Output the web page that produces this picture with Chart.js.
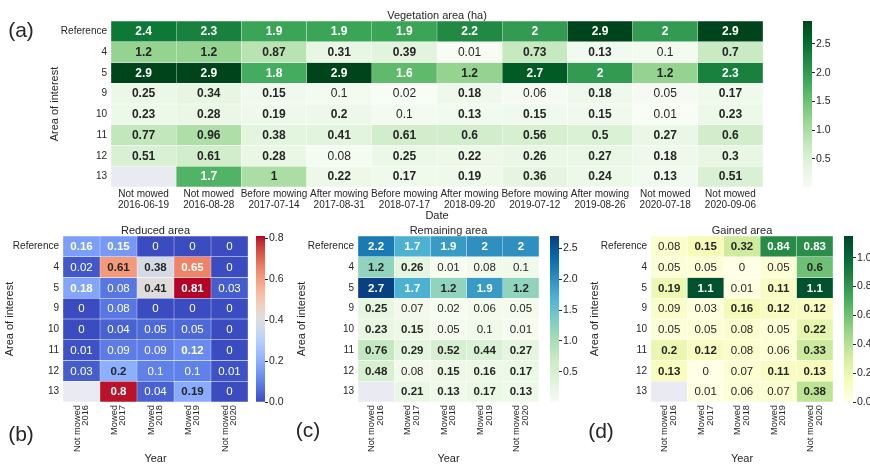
<!DOCTYPE html>
<html>
<head>
<meta charset="utf-8">
<script src="https://cdn.jsdelivr.net/npm/chart.js@4.4.1/dist/chart.umd.min.js"></script>
<style>
  html, body { margin: 0; padding: 0; background: #ffffff; }
  #fig { position: relative; width: 870px; height: 466px; overflow: hidden; background: #ffffff; }
  #fig canvas { position: absolute; }
</style>
</head>
<body>
<div id="fig"></div>
<script>
// ---- data -------------------------------------------------------------
const areaRows = ['Reference', '4', '5', '9', '10', '11', '12', '13'];

const dateLabels = [
  ['Not mowed', '2016-06-19'], ['Not mowed', '2016-08-28'],
  ['Before mowing', '2017-07-14'], ['After mowing', '2017-08-31'],
  ['Before mowing', '2018-07-17'], ['After mowing', '2018-09-20'],
  ['Before mowing', '2019-07-12'], ['After mowing', '2019-08-26'],
  ['Not mowed', '2020-07-18'], ['Not mowed', '2020-09-06']
];

const yearLabels = [
  ['Not mowed', '2016'], ['Mowed', '2017'], ['Mowed', '2018'],
  ['Mowed', '2019'], ['Not mowed', '2020']
];

// vegetation area (ha), one row per area of interest, one column per date
const vegetationArea = [
  [2.4, 2.3, 1.9, 1.9, 1.9, 2.2, 2, 2.9, 2, 2.9],
  [1.2, 1.2, 0.87, 0.31, 0.39, 0.01, 0.73, 0.13, 0.1, 0.7],
  [2.9, 2.9, 1.8, 2.9, 1.6, 1.2, 2.7, 2, 1.2, 2.3],
  [0.25, 0.34, 0.15, 0.1, 0.02, 0.18, 0.06, 0.18, 0.05, 0.17],
  [0.23, 0.28, 0.19, 0.2, 0.1, 0.13, 0.15, 0.15, 0.01, 0.23],
  [0.77, 0.96, 0.38, 0.41, 0.61, 0.6, 0.56, 0.5, 0.27, 0.6],
  [0.51, 0.61, 0.28, 0.08, 0.25, 0.22, 0.26, 0.27, 0.18, 0.3],
  [null, 1.7, 1, 0.22, 0.17, 0.19, 0.36, 0.24, 0.13, 0.51]
];

const reducedArea = [
  [0.16, 0.15, 0, 0, 0],
  [0.02, 0.61, 0.38, 0.65, 0],
  [0.18, 0.08, 0.41, 0.81, 0.03],
  [0, 0.08, 0, 0, 0],
  [0, 0.04, 0.05, 0.05, 0],
  [0.01, 0.09, 0.09, 0.12, 0],
  [0.03, 0.2, 0.1, 0.1, 0.01],
  [null, 0.8, 0.04, 0.19, 0]
];

const remainingArea = [
  [2.2, 1.7, 1.9, 2, 2],
  [1.2, 0.26, 0.01, 0.08, 0.1],
  [2.7, 1.7, 1.2, 1.9, 1.2],
  [0.25, 0.07, 0.02, 0.06, 0.05],
  [0.23, 0.15, 0.05, 0.1, 0.01],
  [0.76, 0.29, 0.52, 0.44, 0.27],
  [0.48, 0.08, 0.15, 0.16, 0.17],
  [null, 0.21, 0.13, 0.17, 0.13]
];

const gainedArea = [
  [0.08, 0.15, 0.32, 0.84, 0.83],
  [0.05, 0.05, 0, 0.05, 0.6],
  [0.19, 1.1, 0.01, 0.11, 1.1],
  [0.09, 0.03, 0.16, 0.12, 0.12],
  [0.05, 0.05, 0.08, 0.05, 0.22],
  [0.2, 0.12, 0.08, 0.06, 0.33],
  [0.13, 0, 0.07, 0.11, 0.13],
  [null, 0.01, 0.06, 0.07, 0.38]
];

// colour-bar ranges and tick values
const vegetationRange = [0.01, 2.9];
const reducedRange = [0, 0.81];
const remainingRange = [0.01, 2.7];
const gainedRange = [0, 1.15];
const vegetationTicks = [0.5, 1, 1.5, 2, 2.5];
const reducedTicks = [0, 0.2, 0.4, 0.6, 0.8];
const remainingTicks = [0.5, 1, 1.5, 2, 2.5];
const gainedTicks = [0, 0.2, 0.4, 0.6, 0.8, 1];

// ---- styling ----------------------------------------------------------
const FONT = '"Liberation Sans", Arial, Helvetica, sans-serif';
const INK = '#262626';
const MISSING = '#eaeaf2';

const GREENS = ['#f7fcf5', '#e5f5e0', '#c7e9c0', '#a1d99b', '#74c476', '#41ab5d', '#238b45', '#006d2c', '#00441b'];
const GNBU = ['#f7fcf0', '#e0f3db', '#ccebc5', '#a8ddb5', '#7bccc4', '#4eb3d3', '#2b8cbe', '#0868ac', '#084081'];
const YLGN = ['#ffffe5', '#f7fcb9', '#d9f0a3', '#addd8e', '#78c679', '#41ab5d', '#238443', '#006837', '#004529'];
const COOLWARM = [
  '#3b4cc0', '#445acc', '#4d68d7', '#5775e1', '#6282ea', '#6c8ef1', '#779af7', '#82a5fb',
  '#8db0fe', '#98b9ff', '#a3c2ff', '#aec9fd', '#b8d0f9', '#c2d5f4', '#ccd9ee', '#d5dbe6',
  '#dddddd', '#e5d8d1', '#ecd3c5', '#f1ccb9', '#f5c4ad', '#f7bba0', '#f7b194', '#f7a687',
  '#f49a7b', '#f18d6f', '#ec7f63', '#e57058', '#de604d', '#d55042', '#cb3e38', '#c0282f',
  '#b40426'
];

function hexRgb(h) {
  const n = parseInt(h.slice(1), 16);
  return [(n >> 16) & 255, (n >> 8) & 255, n & 255];
}

function sampleMap(stops, t) {
  t = Math.max(0, Math.min(1, t));
  const n = stops.length - 1;
  const p = t * n;
  const i = Math.min(Math.floor(p), n - 1);
  const f = p - i;
  const a = hexRgb(stops[i]), b = hexRgb(stops[i + 1]);
  return a.map((v, k) => Math.round(v + (b[k] - v) * f));
}

function luminance(rgb) {
  const lin = rgb.map(c => {
    c /= 255;
    return c <= 0.03928 ? c / 12.92 : Math.pow((c + 0.055) / 1.055, 2.4);
  });
  return 0.2126 * lin[0] + 0.7152 * lin[1] + 0.0722 * lin[2];
}

function rgbCss(rgb) { return `rgb(${rgb[0]},${rgb[1]},${rgb[2]})`; }

// writes each cell's value on top of its rectangle
const cellText = {
  id: 'cellText',
  afterDatasetsDraw(chart, args, o) {
    const { ctx } = chart;
    ctx.save();
    ctx.textAlign = 'center';
    ctx.textBaseline = 'middle';
    chart.data.datasets.forEach((ds, r) => {
      const meta = chart.getDatasetMeta(r);
      meta.data.forEach((bar, c) => {
        const v = o.values[r][c];
        if (v === null) return;
        const rgb = sampleMap(o.cmap, (v - o.range[0]) / (o.range[1] - o.range[0]));
        const { x, y, base } = bar.getProps(['x', 'y', 'base'], true);
        ctx.font = `${v > 0.1 ? 'bold ' : ''}${o.size}px ${FONT}`;
        ctx.fillStyle = luminance(rgb) > 0.408 ? INK : '#ffffff';
        ctx.fillText(String(v), x, (y + base) / 2 + 0.5);
      });
    });
    ctx.restore();
  }
};

// panel title, panel letter and (optionally) vertical column labels
const panelDecor = {
  id: 'panelDecor',
  afterDraw(chart, args, o) {
    const { ctx, chartArea } = chart;
    ctx.save();
    ctx.fillStyle = INK;
    ctx.textBaseline = 'middle';
    ctx.textAlign = 'center';
    ctx.font = `11px ${FONT}`;
    ctx.fillText(o.title, (chartArea.left + chartArea.right) / 2, chartArea.top - 5.5);
    ctx.font = `21px ${FONT}`;
    ctx.fillText(o.letter, o.letterX, o.letterY);
    if (o.vertical) {
      const xs = chart.scales.x;
      ctx.font = `9.3px ${FONT}`;
      ctx.textAlign = 'right';
      o.vertical.forEach((lines, i) => {
        const px = xs.getPixelForTick(i);
        ctx.save();
        ctx.translate(px, chartArea.bottom + 3);
        ctx.rotate(-Math.PI / 2);
        lines.forEach((line, j) => {
          ctx.fillText(line, 0, (j - (lines.length - 1) / 2) * 8.8);
        });
        ctx.restore();
      });
    }
    ctx.restore();
  }
};

function addCanvas(left, top, w, h) {
  const c = document.createElement('canvas');
  c.width = w; c.height = h;
  c.style.left = left + 'px'; c.style.top = top + 'px';
  c.style.width = w + 'px'; c.style.height = h + 'px';
  document.getElementById('fig').appendChild(c);
  return c;
}

function heatmap(s) {
  const canvas = addCanvas(s.left, s.top, s.width, s.height);
  const columns = s.vertical ? s.columns.map(l => l.join(' ')) : s.columns;
  const datasets = areaRows.map((name, r) => ({
    label: name,
    data: columns.map(() => 1),
    backgroundColor: s.values[r].map(v => v === null ? MISSING
      : rgbCss(sampleMap(s.cmap, (v - s.range[0]) / (s.range[1] - s.range[0])))),
    borderColor: 'rgba(255,255,255,0.1)',
    borderWidth: 0.5,
    borderSkipped: false,
    barPercentage: 1,
    categoryPercentage: 1
  }));
  return new Chart(canvas, {
    type: 'bar',
    data: { labels: columns, datasets },
    plugins: [cellText, panelDecor],
    options: {
      responsive: false,
      animation: false,
      devicePixelRatio: 1,
      events: [],
      layout: { padding: s.padding },
      plugins: {
        legend: { display: false },
        tooltip: { enabled: false },
        cellText: { values: s.values, cmap: s.cmap, range: s.range, size: s.valueSize },
        panelDecor: { title: s.title, letter: s.letter, letterX: s.letterX, letterY: s.letterY,
                      vertical: s.vertical ? s.columns : null }
      },
      scales: {
        x: {
          type: 'category',
          stacked: true,
          grid: { display: false, drawTicks: false },
          border: { display: false },
          ticks: {
            display: !s.vertical, autoSkip: false, maxRotation: 0, minRotation: 0,
            padding: 2, color: INK, font: { family: FONT, size: 10, lineHeight: 1.1 }
          },
          title: {
            display: true, text: s.xTitle, color: INK,
            font: { family: FONT, size: 11, lineHeight: 1.2 },
            padding: { top: 0, bottom: s.xTitlePad }
          },
          afterFit: sc => { sc.height = s.xHeight; }
        },
        y: {
          type: 'linear',
          stacked: true,
          reverse: true,
          min: 0,
          max: areaRows.length,
          grid: { display: false, drawTicks: false },
          border: { display: false },
          afterBuildTicks: sc => { sc.ticks = areaRows.map((_, i) => ({ value: i + 0.5 })); },
          ticks: {
            color: INK, padding: 4, font: { family: FONT, size: 10 },
            callback: (v, i) => areaRows[i]
          },
          title: {
            display: true, text: 'Area of interest', color: INK,
            font: { family: FONT, size: 11, lineHeight: 1.2 },
            padding: { top: 0, bottom: 0 }
          },
          afterFit: sc => { sc.width = s.yWidth; }
        }
      }
    }
  });
}

function colorbar(s) {
  const canvas = addCanvas(s.left, s.top, s.width, s.height);
  return new Chart(canvas, {
    type: 'bar',
    data: {
      labels: [''],
      datasets: [{
        data: [[s.range[0], s.range[1]]],
        backgroundColor: ctx => {
          const ca = ctx.chart.chartArea;
          if (!ca) return s.cmap[0];
          const g = ctx.chart.ctx.createLinearGradient(0, ca.bottom, 0, ca.top);
          s.cmap.forEach((c, i) => g.addColorStop(i / (s.cmap.length - 1), c));
          return g;
        },
        borderWidth: 0,
        barPercentage: 1,
        categoryPercentage: 1
      }]
    },
    options: {
      responsive: false,
      animation: false,
      devicePixelRatio: 1,
      events: [],
      layout: { padding: { left: s.padLeft, top: s.padTop, right: 0, bottom: s.padBottom } },
      plugins: { legend: { display: false }, tooltip: { enabled: false } },
      scales: {
        x: { display: false },
        y: {
          position: 'right',
          min: s.range[0],
          max: s.range[1],
          afterBuildTicks: sc => { sc.ticks = s.ticks.map(v => ({ value: v })); },
          grid: { drawOnChartArea: false, drawTicks: true, tickLength: 3, color: INK, lineWidth: 1 },
          border: { display: false },
          ticks: {
            padding: 1, color: INK, font: { family: FONT, size: 10.5 },
            callback: v => Number(v).toFixed(1)
          },
          afterFit: sc => { sc.width = s.yWidth; }
        }
      }
    }
  });
}

// ---- (a) vegetation area by date ---------------------------------------
heatmap({
  left: 0, top: 0, width: 790, height: 226,
  padding: { left: 48, top: 21, right: 27, bottom: 0 },
  yWidth: 63, xHeight: 39, xTitlePad: 3,
  columns: dateLabels, values: vegetationArea, cmap: GREENS, range: vegetationRange,
  title: 'Vegetation area (ha)', xTitle: 'Date', letter: '(a)', letterX: 21, letterY: 31,
  valueSize: 12
});
colorbar({
  left: 790, top: 0, width: 80, height: 200,
  padLeft: 13, padTop: 21, padBottom: 13, yWidth: 58,
  range: vegetationRange, ticks: vegetationTicks, cmap: GREENS
});

// ---- (b) reduced area by year ------------------------------------------
heatmap({
  left: 0, top: 222, width: 252, height: 244,
  padding: { left: 3, top: 14, right: 4, bottom: 0 },
  yWidth: 60, xHeight: 64, xTitlePad: 0, vertical: true,
  columns: yearLabels, values: reducedArea, cmap: COOLWARM, range: reducedRange,
  title: 'Reduced area', xTitle: 'Year', letter: '(b)', letterX: 21, letterY: 213,
  valueSize: 11.5
});
colorbar({
  left: 250, top: 222, width: 40, height: 200,
  padLeft: 6, padTop: 14, padBottom: 20, yWidth: 25,
  range: reducedRange, ticks: reducedTicks, cmap: COOLWARM
});

// ---- (c) remaining area by year ----------------------------------------
heatmap({
  left: 290, top: 222, width: 255, height: 244,
  padding: { left: 5, top: 14, right: 6, bottom: 0 },
  yWidth: 63, xHeight: 64, xTitlePad: 0, vertical: true,
  columns: yearLabels, values: remainingArea, cmap: GNBU, range: remainingRange,
  title: 'Remaining area', xTitle: 'Year', letter: '(c)', letterX: 18, letterY: 209,
  valueSize: 11.5
});
colorbar({
  left: 545, top: 222, width: 40, height: 200,
  padLeft: 5, padTop: 14, padBottom: 20, yWidth: 26,
  range: remainingRange, ticks: remainingTicks, cmap: GNBU
});

// ---- (d) gained area by year -------------------------------------------
heatmap({
  left: 580, top: 222, width: 258, height: 244,
  padding: { left: 8, top: 14, right: 5, bottom: 0 },
  yWidth: 63, xHeight: 64, xTitlePad: 0, vertical: true,
  columns: yearLabels, values: gainedArea, cmap: YLGN, range: gainedRange,
  title: 'Gained area', xTitle: 'Year', letter: '(d)', letterX: 21, letterY: 210,
  valueSize: 11.5
});
colorbar({
  left: 838, top: 222, width: 32, height: 200,
  padLeft: 6, padTop: 14, padBottom: 20, yWidth: 17,
  range: gainedRange, ticks: gainedTicks, cmap: YLGN
});
</script>
</body>
</html>
